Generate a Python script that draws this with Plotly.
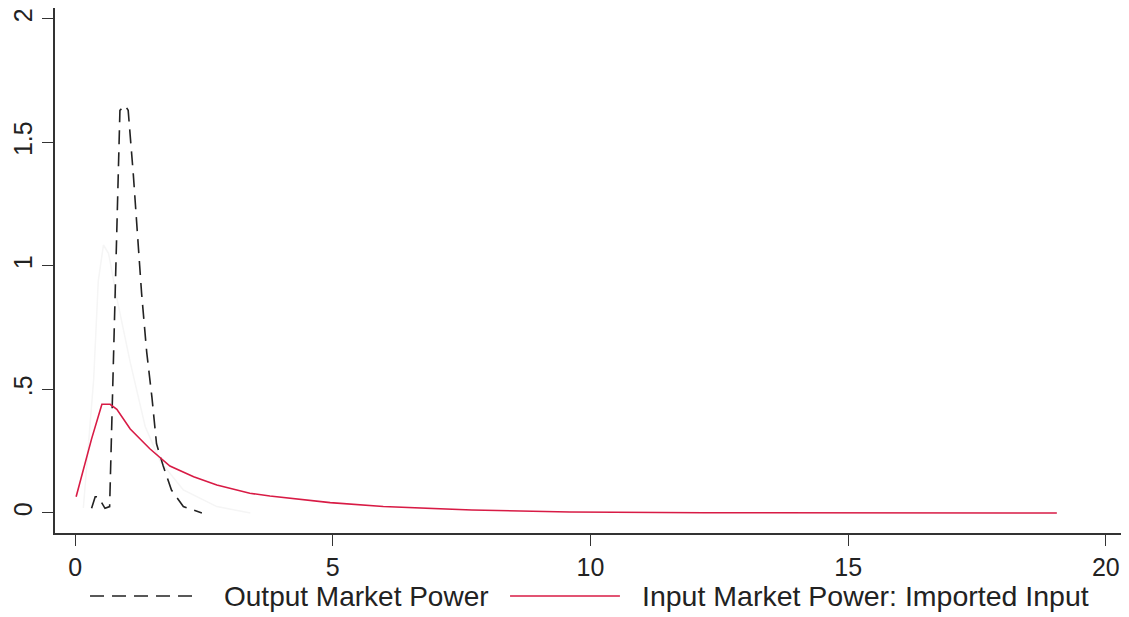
import plotly.graph_objects as go

# Output Market Power (black dashed)
out_x = [0.32, 0.39, 0.45, 0.58, 0.67, 0.77, 0.87, 0.97, 1.03, 1.13, 1.20, 1.29, 1.39, 1.49, 1.58, 1.71, 1.87, 2.10, 2.46]
out_y = [0.019, 0.066, 0.066, 0.019, 0.026, 0.80, 1.63, 1.65, 1.63, 1.37, 1.17, 0.89, 0.65, 0.47, 0.28, 0.19, 0.093, 0.026, 0.0]

# Input Market Power: Imported Input (red solid)
inp_x = [0.02, 0.32, 0.52, 0.68, 0.81, 1.07, 1.45, 1.84, 2.30, 2.75, 3.39, 3.78, 4.95, 5.98, 7.70, 9.60, 12.2, 15.0, 19.05]
inp_y = [0.066, 0.30, 0.44, 0.44, 0.42, 0.34, 0.26, 0.19, 0.147, 0.113, 0.080, 0.069, 0.042, 0.026, 0.012, 0.004, 0.001, 0.0005, 0.0]

# faint (almost invisible) third density
faint_x = [0.16, 0.36, 0.45, 0.55, 0.65, 0.81, 1.07, 1.36, 1.65, 2.10, 2.75, 3.40]
faint_y = [0.02, 0.54, 0.94, 1.085, 1.05, 0.87, 0.61, 0.35, 0.21, 0.093, 0.026, 0.0]

x_ticks = [0, 5, 10, 15, 20]
y_ticks = [0, 0.5, 1, 1.5, 2]
y_tick_text = ["0", ".5", "1", "1.5", "2"]

legend_labels = ["Output Market Power", "Input Market Power: Imported Input"]

RED = "#d81b45"
AXC = "#333333"
TXT = "#222222"

fig = go.Figure()
fig.add_trace(go.Scatter(x=faint_x, y=faint_y, mode="lines",
                         line=dict(color="#f5f5f5", width=1.5), showlegend=False, hoverinfo="skip"))
fig.add_trace(go.Scatter(x=out_x, y=out_y, mode="lines", name=legend_labels[0],
                         line=dict(color="#222222", width=1.6, dash="14px,8px"), showlegend=False))
fig.add_trace(go.Scatter(x=inp_x, y=inp_y, mode="lines", name=legend_labels[1],
                         line=dict(color=RED, width=1.6), showlegend=False))

# manual legend (long line samples as in the reference)
LEG_Y = -0.12
fig.add_shape(type="line", xref="paper", yref="paper", x0=0.0326, x1=0.135, y0=LEG_Y, y1=LEG_Y,
              line=dict(color="#222222", width=1.6, dash="14px,8px"))
fig.add_shape(type="line", xref="paper", yref="paper", x0=0.4237, x1=0.526, y0=LEG_Y, y1=LEG_Y,
              line=dict(color=RED, width=1.6))
fig.add_annotation(xref="paper", yref="paper", x=0.1555, y=LEG_Y, text=legend_labels[0],
                   showarrow=False, xanchor="left", yanchor="middle",
                   font=dict(family="Liberation Sans, Arial", size=28, color=TXT))
fig.add_annotation(xref="paper", yref="paper", x=0.5447, y=LEG_Y, text=legend_labels[1],
                   showarrow=False, xanchor="left", yanchor="middle",
                   font=dict(family="Liberation Sans, Arial", size=28.5, color=TXT))

fig.update_layout(
    width=1121, height=609,
    margin=dict(l=47, r=0, t=0, b=84, autoexpand=False),
    paper_bgcolor="white", plot_bgcolor="white",
    font=dict(family="Liberation Sans, Arial", size=25, color=TXT),
    xaxis=dict(range=[-0.39, 20.45], tickvals=x_ticks, showgrid=False, zeroline=False,
               showline=True, linecolor=AXC, linewidth=1.5, ticks="outside", ticklen=11,
               tickwidth=1.2, tickcolor=AXC, automargin=False),
    yaxis=dict(range=[-0.081, 2.0445], tickvals=y_ticks, ticktext=y_tick_text, tickangle=-90,
               showgrid=False, zeroline=False, showline=True, linecolor=AXC, linewidth=1.5,
               ticks="outside", ticklen=11, tickwidth=1.2, tickcolor=AXC, automargin=False),
)

fig.write_html("out.html")
